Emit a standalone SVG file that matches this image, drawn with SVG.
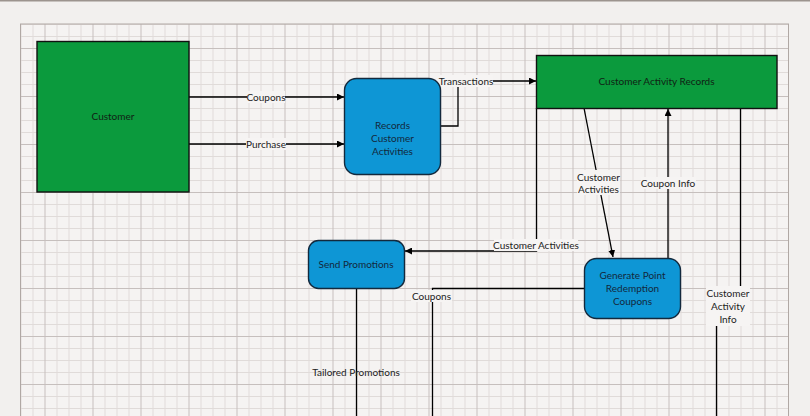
<svg xmlns="http://www.w3.org/2000/svg" width="810" height="416" viewBox="0 0 810 416">
<style>
text{font-family:Lato,"Liberation Sans",sans-serif;font-size:10px;fill:#222;text-anchor:middle}
.g{fill:#0b9a3d;stroke:#111;stroke-width:1.4}
.b{fill:#0e96d5;stroke:#13293d;stroke-width:1.4}
.c{fill:none;stroke:#000;stroke-width:1.3}
.lb{fill:#f6f4f3}
.nb{fill:#13283c}
.ng{fill:#102214}
</style>
<defs>
<pattern id="grid" x="20.5" y="24" width="48" height="48" patternUnits="userSpaceOnUse">
<rect width="48" height="48" fill="#f5f3f2"/>
<g fill="#e0dbd9">
<rect x="0" y="0" width="1" height="48"/><rect x="12" y="0" width="1" height="48"/><rect x="36" y="0" width="1" height="48"/>
<rect x="0" y="0" width="48" height="1"/><rect x="0" y="12" width="48" height="1"/><rect x="0" y="36" width="48" height="1"/>
</g>
<g fill="#c6bfbd">
<rect x="24" y="0" width="1" height="48"/><rect x="0" y="24" width="48" height="1"/>
</g>
</pattern>
<marker id="ah" viewBox="0 0 10 10" refX="10" refY="5" markerWidth="7" markerHeight="7" markerUnits="userSpaceOnUse" orient="auto">
<path d="M0,0 L10,5 L0,10 z" fill="#000"/>
</marker>
</defs>
<rect x="0" y="0" width="810" height="416" fill="#f2f0ee"/>
<rect x="0" y="0" width="810" height="1.5" fill="#9c948e"/>
<rect x="20.5" y="24" width="768" height="400" fill="url(#grid)" stroke="#b0a8a4" stroke-width="1"/>

<g id="connectors">
<line class="c" x1="189" y1="97" x2="344" y2="97" marker-end="url(#ah)"/>
<line class="c" x1="189" y1="144" x2="344" y2="144" marker-end="url(#ah)"/>
<polyline class="c" points="441,126 458,126 458,81 536,81" marker-end="url(#ah)"/>
<line class="c" x1="584" y1="108" x2="613" y2="257" marker-end="url(#ah)"/>
<line class="c" x1="668" y1="258" x2="668" y2="109" marker-end="url(#ah)"/>
<polyline class="c" points="536.5,108 536.5,251 405,251" marker-end="url(#ah)"/>
<polyline class="c" points="584,288.5 432.5,288.5 432.5,416"/>
<line class="c" x1="356.5" y1="289" x2="356.5" y2="416"/>
<polyline class="c" points="740.5,108 740.5,300 716.5,300 716.5,416"/>

<rect class="lb" x="247" y="91" width="38" height="12"/>
<text x="266" y="100.5">Coupons</text>
<rect class="lb" x="246" y="138" width="40" height="12"/>
<text x="266" y="147.5">Purchase</text>
<rect class="lb" x="439" y="75" width="54" height="12"/>
<text x="466" y="84.5">Transactions</text>
<rect class="lb" x="577" y="170" width="43" height="25"/>
<text x="598.5" y="180.5">Customer</text>
<text x="598.5" y="192.5">Activities</text>
<rect class="lb" x="641" y="177" width="55" height="12"/>
<text x="668" y="186.5">Coupon Info</text>
<rect class="lb" x="494" y="239" width="84" height="12"/>
<text x="536" y="248.5">Customer Activities</text>
<rect class="lb" x="411" y="290" width="41" height="12"/>
<text x="431.5" y="299.5">Coupons</text>
<text x="356" y="375.5">Tailored Promotions</text>
<rect class="lb" x="706" y="286" width="44" height="40"/>
<text x="728" y="296.5">Customer</text>
<text x="728" y="309.5">Activity</text>
<text x="728" y="322.5">Info</text>
</g>

<g id="customer">
<rect class="g" x="37" y="41.5" width="152" height="150.5"/>
<text class="ng" x="113" y="119.5">Customer</text>
</g>
<g id="customer-activity-records">
<rect class="g" x="536.5" y="55.5" width="240.5" height="53"/>
<text class="ng" x="656.5" y="85">Customer Activity Records</text>
</g>
<g id="records-customer-activities">
<rect class="b" x="344.5" y="78.5" width="96" height="96" rx="12"/>
<text class="nb" x="392.5" y="128.5">Records</text>
<text class="nb" x="392.5" y="141.5">Customer</text>
<text class="nb" x="392.5" y="154.5">Activities</text>
</g>
<g id="send-promotions">
<rect class="b" x="308.5" y="240.5" width="96" height="48" rx="10"/>
<text class="nb" x="356" y="267.5">Send Promotions</text>
</g>
<g id="generate-point-redemption-coupons">
<rect class="b" x="584.5" y="258.5" width="96" height="60" rx="12"/>
<text class="nb" x="632.5" y="278.5">Generate Point</text>
<text class="nb" x="632.5" y="291.5">Redemption</text>
<text class="nb" x="632.5" y="304.5">Coupons</text>
</g>
</svg>
